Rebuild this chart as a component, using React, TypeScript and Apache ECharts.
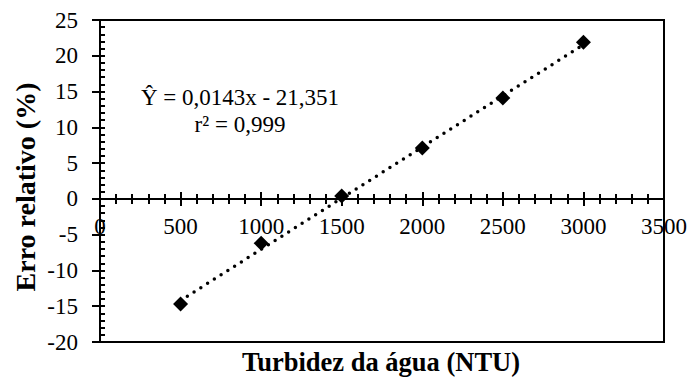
import React, { useEffect, useRef } from "react";
import * as echarts from "echarts";

const turbidity = [500, 1000, 1500, 2000, 2500, 3000];
const relativeError = [-14.7, -6.2, 0.4, 7.1, 14.1, 21.9];
const slope = 0.0143;
const intercept = -21.351;
const equationText = "Ŷ = 0,0143x - 21,351\nr² = 0,999";
const xTitle = "Turbidez da água (NTU)";
const yTitle = "Erro relativo (%)";
const xMin = 0, xMax = 3500, xStep = 500;
const yMin = -20, yMax = 25, yStep = 5;

const FONT = "'Liberation Serif', 'Times New Roman', serif";
const W = 691, H = 378;
const PL = 100, PR = 27, PT = 20, PB = 36;

export default function App() {
  const ref = useRef<HTMLDivElement>(null);
  useEffect(() => {
    if (!ref.current) return;
    const chart = echarts.init(ref.current, null, { renderer: "svg" });
    const points = turbidity.map((x, i) => [x, relativeError[i]]);
    const x0 = turbidity[0];
    const x1 = turbidity[turbidity.length - 1];
    const trend = [
      [x0, slope * x0 + intercept],
      [x1, slope * x1 + intercept],
    ];
    // pixel row of y = 0 inside the plot box: two helper grids meet there so the x axis crosses at zero
    const plotH = H - PT - PB;
    const zeroY = PT + ((yMax - 0) / (yMax - yMin)) * plotH;

    const tickStyle = { color: "#000", width: 2 };
    const hiddenX = (gridIndex: number) => ({
      type: "value", gridIndex, min: xMin, max: xMax, interval: xStep, show: false,
      axisLine: { onZero: false },
    });
    const hiddenY = (gridIndex: number) => ({
      type: "value", gridIndex, min: yMin, max: yMax, interval: yStep, show: false,
      axisLine: { onZero: false },
    });

    chart.setOption({
      animation: false,
      grid: [
        { left: PL, right: PR, top: PT, bottom: PB, show: true, borderColor: "#000", borderWidth: 2, containLabel: false },
        { left: PL, right: PR, top: PT, bottom: H - zeroY, containLabel: false },
        { left: PL, right: PR, top: zeroY, bottom: PB, containLabel: false },
      ],
      xAxis: [
        hiddenX(0),
        {
          type: "value", gridIndex: 1, min: xMin, max: xMax, interval: xStep, position: "bottom",
          splitLine: { show: false },
          axisLine: { show: true, onZero: false, lineStyle: { color: "#000", width: 2 } },
          axisTick: { show: true, length: 7, lineStyle: tickStyle },
          minorTick: { show: true, splitNumber: 5, length: 5, lineStyle: tickStyle },
          axisLabel: {
            show: true, color: "#000", fontFamily: FONT, fontSize: 23, margin: 16,
            showMinLabel: true, showMaxLabel: true, hideOverlap: false,
            formatter: (v: number) => String(v),
          },
        },
        {
          type: "value", gridIndex: 2, min: xMin, max: xMax, interval: xStep, position: "top",
          splitLine: { show: false },
          axisLine: { show: false, onZero: false },
          axisTick: { show: true, length: 7, lineStyle: tickStyle },
          minorTick: { show: true, splitNumber: 5, length: 5, lineStyle: tickStyle },
          axisLabel: { show: false },
        },
      ],
      yAxis: [
        {
          type: "value", gridIndex: 0, min: yMin, max: yMax, interval: yStep, position: "left",
          splitLine: { show: false },
          axisLine: { show: true, onZero: false, lineStyle: { color: "#000", width: 2 } },
          axisTick: { show: true, length: 8, lineStyle: tickStyle },
          minorTick: { show: false },
          axisLabel: { show: true, color: "#000", fontFamily: FONT, fontSize: 23, margin: 22 },
        },
        {
          type: "value", gridIndex: 0, min: yMin, max: yMax, interval: yStep, position: "left", offset: 0,
          splitLine: { show: false },
          axisLine: { show: false, onZero: false },
          axisTick: { show: true, inside: true, length: 5, lineStyle: tickStyle },
          minorTick: { show: true, splitNumber: 5, length: 5, lineStyle: tickStyle },
          axisLabel: { show: false },
        },
        hiddenY(1),
        hiddenY(2),
      ],
      series: [
        {
          type: "line",
          xAxisIndex: 0,
          yAxisIndex: 0,
          data: trend,
          showSymbol: false,
          symbol: "none",
          lineStyle: { color: "#000", width: 3.5, type: [0, 8], cap: "round" },
          silent: true,
          z: 2,
        },
        {
          type: "scatter",
          xAxisIndex: 0,
          yAxisIndex: 0,
          data: points,
          symbol: "diamond",
          symbolSize: 15,
          itemStyle: { color: "#000", opacity: 1 },
          z: 3,
        },
      ],
      graphic: [
        {
          type: "text", x: 240, y: 111,
          style: {
            text: equationText, fill: "#000", fontFamily: FONT, fontSize: 23, lineHeight: 27,
            textAlign: "center", textVerticalAlign: "middle",
          },
        },
        {
          type: "text", x: 381, y: 362,
          style: {
            text: xTitle, fill: "#000", fontFamily: FONT, fontSize: 26.5, fontWeight: "bold",
            textAlign: "center", textVerticalAlign: "middle",
          },
        },
        {
          type: "text", x: 25, y: 187, rotation: Math.PI / 2,
          style: {
            text: yTitle, fill: "#000", fontFamily: FONT, fontSize: 28, fontWeight: "bold",
            textAlign: "center", textVerticalAlign: "middle",
          },
        },
      ],
    });
    return () => chart.dispose();
  }, []);
  return (
    <div
      ref={ref}
      style={{ position: "fixed", left: 0, top: 0, width: W, height: H, background: "#fff" }}
    />
  );
}
